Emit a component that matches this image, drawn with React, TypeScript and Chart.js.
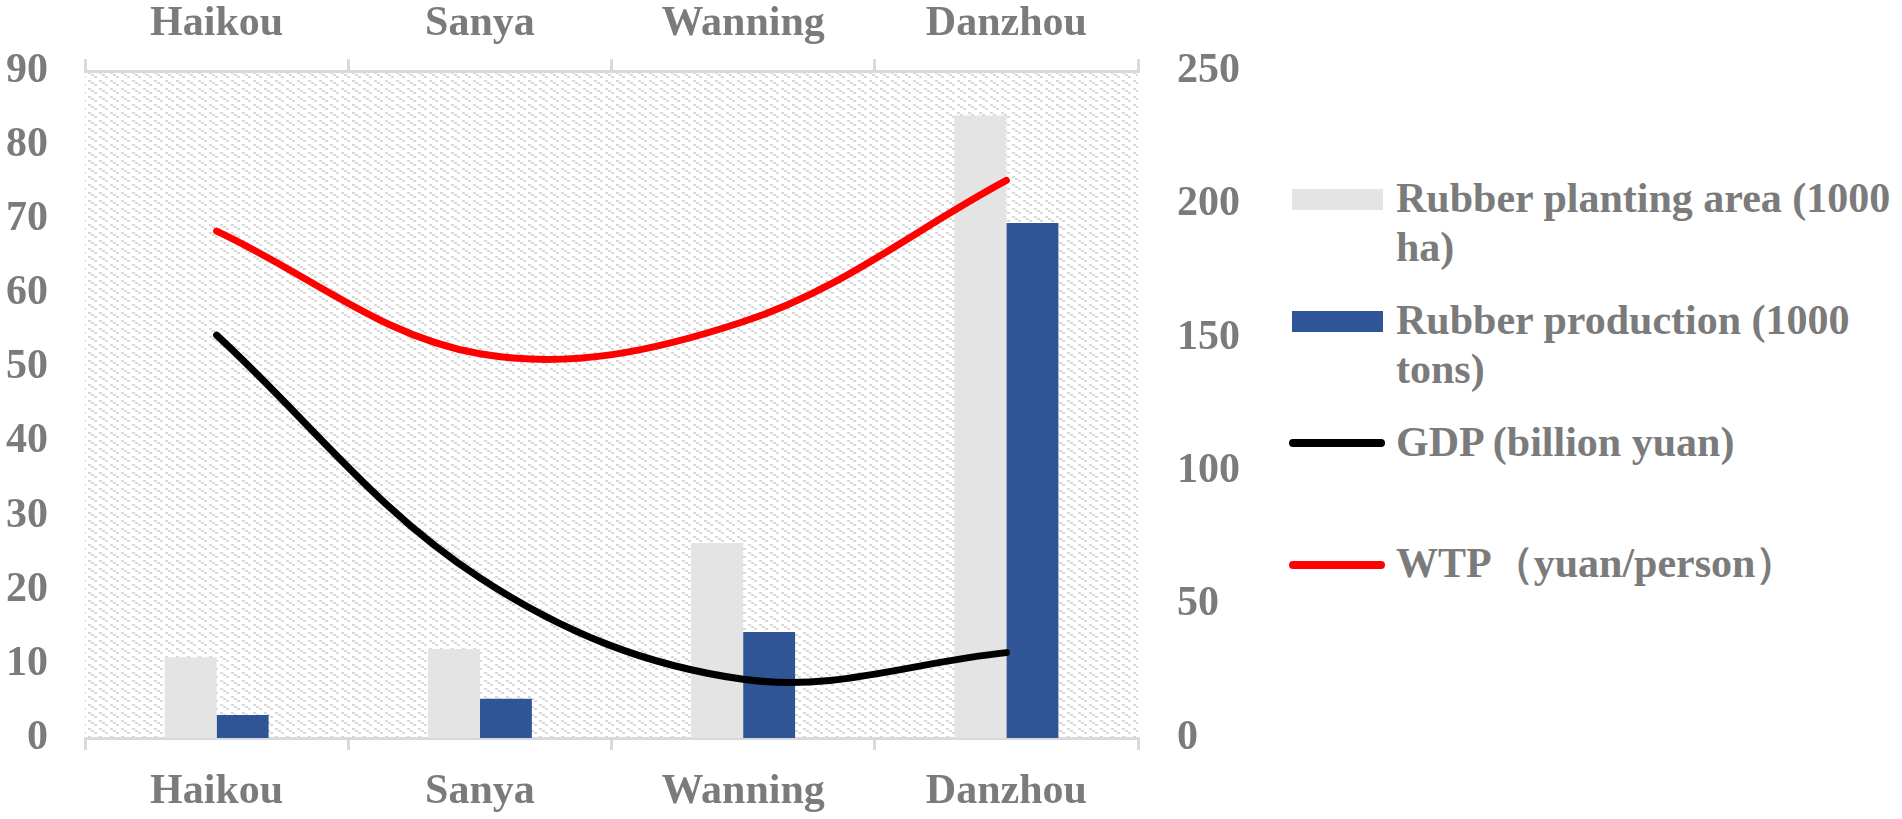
import React, { useEffect, useRef } from 'react';
import { Chart, registerables } from 'chart.js';

Chart.register(...registerables);

const categories = ['Haikou', 'Sanya', 'Wanning', 'Danzhou'];
const plantingArea = [10.9, 12.0, 26.3, 84.0];
const rubberProduction = [3.1, 5.3, 14.3, 69.5];
const gdp = [151, 60, 22, 32];
const wtp = [190, 144, 156, 209];

const leftMin = 0;
const leftMax = 90;
const leftStep = 10;
const rightMin = 0;
const rightMax = 250;
const rightStep = 50;

const legendLabels = [
  ['Rubber planting area (1000', 'ha)'],
  ['Rubber production (1000', 'tons)'],
  ['GDP (billion yuan)'],
  ['WTP（yuan/person）'],
];

const FONT = "'Liberation Serif', 'Times New Roman', serif";
const TEXT = '#7b7b7b';
const AXIS = '#d9d9d9';
const GRAY_BAR = '#e4e4e4';
const BLUE_BAR = '#2f5597';

function makePattern(ctx: CanvasRenderingContext2D) {
  const c = document.createElement('canvas');
  c.width = 11;
  c.height = 8;
  const p = c.getContext('2d')!;
  p.fillStyle = '#ffffff';
  p.fillRect(0, 0, 11, 8);
  p.fillStyle = '#d9d9d9';
  p.fillRect(0, 0, 3, 2);
  p.fillRect(3, 2, 3, 2);
  p.fillRect(6, 4, 3, 2);
  return ctx.createPattern(c, 'repeat');
}

const hatchPlugin = {
  id: 'hatchBg',
  beforeDraw(chart: any) {
    const { ctx, chartArea } = chart;
    if (!chartArea) return;
    const pat = makePattern(ctx);
    ctx.save();
    ctx.fillStyle = pat;
    ctx.fillRect(chartArea.left, chartArea.top, chartArea.right - chartArea.left, chartArea.bottom - chartArea.top);
    ctx.restore();
  },
};

const CANVAS_W = 1250;
const CANVAS_H = 819;

export default function App() {
  const ref = useRef<HTMLCanvasElement>(null);

  useEffect(() => {
    if (!ref.current) return;
    const tickFont = { family: FONT, size: 42, weight: 'bold' as const };
    const lineCommon = {
      type: 'line',
      yAxisID: 'y1',
      xAxisID: 'x',
      borderWidth: 7,
      borderCapStyle: 'round',
      borderJoinStyle: 'round',
      pointRadius: 0,
      tension: 0.36,
      fill: false,
    };
    const chart = new Chart(ref.current, {
      type: 'bar',
      data: {
        labels: categories,
        datasets: [
          {
            ...lineCommon,
            label: 'WTP（yuan/person）',
            data: wtp,
            borderColor: '#ff0000',
            backgroundColor: '#ff0000',
            order: 0,
          } as any,
          {
            ...lineCommon,
            label: 'GDP (billion yuan)',
            data: gdp,
            borderColor: '#000000',
            backgroundColor: '#000000',
            order: 1,
          } as any,
          {
            type: 'bar',
            label: 'Rubber planting area (1000 ha)',
            data: plantingArea,
            yAxisID: 'y',
            xAxisID: 'x',
            backgroundColor: GRAY_BAR,
            categoryPercentage: 0.395,
            barPercentage: 1,
            order: 2,
          },
          {
            type: 'bar',
            label: 'Rubber production (1000 tons)',
            data: rubberProduction,
            yAxisID: 'y',
            xAxisID: 'x',
            backgroundColor: BLUE_BAR,
            categoryPercentage: 0.395,
            barPercentage: 1,
            order: 2,
          },
        ],
      },
      options: {
        responsive: false,
        animation: false,
        layout: { padding: 0 },
        plugins: { legend: { display: false }, tooltip: { enabled: false } },
        scales: {
          x: {
            type: 'category',
            position: 'bottom',
            offset: true,
            grid: { offset: true, drawOnChartArea: false, drawTicks: true, tickLength: 12, color: AXIS, lineWidth: 3 },
            border: { display: true, color: AXIS, width: 3 },
            ticks: { font: tickFont, color: TEXT, padding: 17, maxRotation: 0, autoSkip: false },
            afterFit: (s: any) => { s.height = 81; },
          },
          x2: {
            type: 'category',
            position: 'top',
            offset: true,
            labels: categories,
            grid: { offset: true, drawOnChartArea: false, drawTicks: true, tickLength: 12, color: AXIS, lineWidth: 3 },
            border: { display: true, color: AXIS, width: 3 },
            ticks: { font: tickFont, color: TEXT, padding: 10, maxRotation: 0, autoSkip: false },
            afterFit: (s: any) => { s.height = 71; },
          },
          y: {
            type: 'linear',
            position: 'left',
            min: leftMin,
            max: leftMax,
            ticks: { stepSize: leftStep, font: tickFont, color: TEXT, padding: 37 },
            grid: { display: false, drawTicks: false },
            border: { display: false },
            afterFit: (s: any) => { s.width = 85; },
          },
          y1: {
            type: 'linear',
            position: 'right',
            min: rightMin,
            max: rightMax,
            ticks: { stepSize: rightStep, font: tickFont, color: TEXT, padding: 39 },
            grid: { display: false, drawTicks: false },
            border: { display: false },
            afterFit: (s: any) => { s.width = CANVAS_W - 1138; },
          },
        },
      } as any,
      plugins: [hatchPlugin],
    });
    return () => chart.destroy();
  }, []);

  const textStyle: React.CSSProperties = {
    position: 'absolute',
    left: 1396,
    fontFamily: FONT,
    fontWeight: 'bold',
    fontSize: 42,
    lineHeight: '49px',
    color: TEXT,
    whiteSpace: 'nowrap',
  };

  return (
    <div style={{ position: 'fixed', left: 0, top: 0, width: 1902, height: 819, background: '#fff', overflow: 'hidden' }}>
      <canvas ref={ref} width={CANVAS_W} height={CANVAS_H} style={{ position: 'absolute', left: 0, top: 0, width: CANVAS_W, height: CANVAS_H }} />
      <div style={{ position: 'absolute', left: 1292, top: 189, width: 91, height: 21, background: GRAY_BAR }} />
      <div style={{ ...textStyle, top: 174 }}>{legendLabels[0][0]}<br />{legendLabels[0][1]}</div>
      <div style={{ position: 'absolute', left: 1292, top: 311, width: 91, height: 21, background: BLUE_BAR }} />
      <div style={{ ...textStyle, top: 296 }}>{legendLabels[1][0]}<br />{legendLabels[1][1]}</div>
      <div style={{ position: 'absolute', left: 1289, top: 439, width: 96, height: 8, borderRadius: 4, background: '#000' }} />
      <div style={{ ...textStyle, top: 418 }}>{legendLabels[2][0]}</div>
      <div style={{ position: 'absolute', left: 1289, top: 561, width: 96, height: 8, borderRadius: 4, background: '#ff0000' }} />
      <div style={{ ...textStyle, top: 539 }}>{legendLabels[3][0]}</div>
    </div>
  );
}
